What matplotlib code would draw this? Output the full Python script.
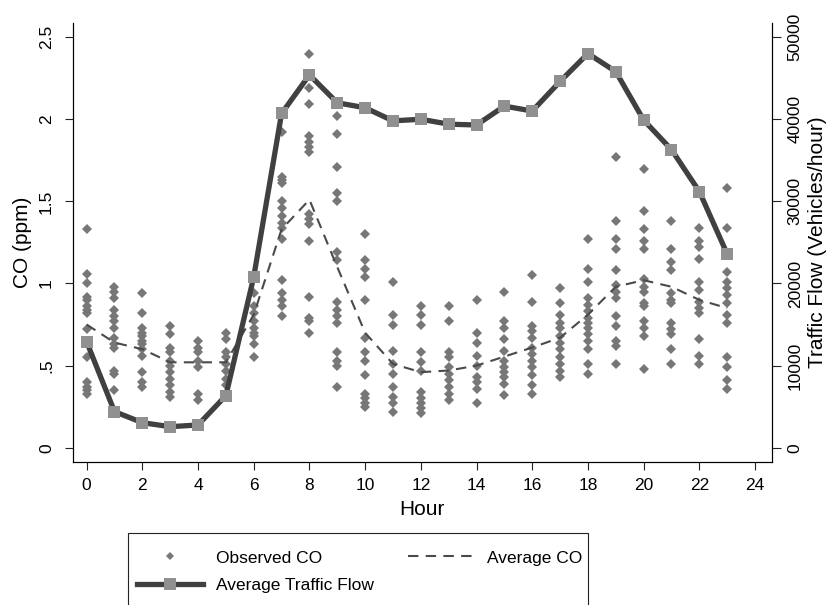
# CO observations and traffic flow by hour, two y axes, legend below
import matplotlib
matplotlib.use('Agg')
import matplotlib.pyplot as plt
from matplotlib.lines import Line2D
from matplotlib.patches import Rectangle

plt.rcParams['font.family'] = ['Liberation Sans', 'DejaVu Sans']

hours = list(range(24))

# observed CO (ppm), one list per hour
observed_co = [
    [1.33, 1.06, 1.00, 0.92, 0.90, 0.86, 0.84, 0.82, 0.72, 0.65, 0.55, 0.40, 0.37, 0.35, 0.33],
    [0.98, 0.95, 0.91, 0.84, 0.80, 0.77, 0.73, 0.67, 0.63, 0.61, 0.47, 0.45, 0.35],
    [0.94, 0.82, 0.73, 0.70, 0.68, 0.65, 0.63, 0.60, 0.56, 0.46, 0.40, 0.37],
    [0.74, 0.69, 0.61, 0.58, 0.53, 0.50, 0.46, 0.42, 0.38, 0.34, 0.31],
    [0.65, 0.61, 0.58, 0.53, 0.49, 0.33, 0.29],
    [0.70, 0.66, 0.58, 0.555, 0.51, 0.47, 0.42, 0.38],
    [0.94, 0.86, 0.82, 0.77, 0.73, 0.70, 0.68, 0.63, 0.55],
    [1.92, 1.65, 1.63, 1.61, 1.50, 1.46, 1.41, 1.37, 1.34, 1.27, 1.02, 0.94, 0.90, 0.86, 0.80],
    [2.40, 2.19, 2.09, 1.90, 1.86, 1.83, 1.80, 1.42, 1.39, 1.36, 1.26, 0.92, 0.79, 0.77, 0.70],
    [2.02, 1.91, 1.71, 1.55, 1.50, 1.19, 1.14, 0.89, 0.84, 0.80, 0.76, 0.58, 0.53, 0.50, 0.37],
    [1.30, 1.14, 1.09, 1.04, 0.90, 0.67, 0.58, 0.53, 0.44, 0.33, 0.30, 0.27, 0.25],
    [1.01, 0.81, 0.75, 0.59, 0.51, 0.45, 0.37, 0.31, 0.27, 0.22],
    [0.86, 0.81, 0.75, 0.58, 0.52, 0.47, 0.34, 0.30, 0.27, 0.24, 0.21],
    [0.86, 0.77, 0.58, 0.55, 0.49, 0.45, 0.41, 0.37, 0.33, 0.29],
    [0.90, 0.70, 0.64, 0.56, 0.50, 0.43, 0.40, 0.36, 0.27],
    [0.95, 0.77, 0.73, 0.66, 0.59, 0.53, 0.49, 0.46, 0.43, 0.39, 0.32],
    [1.05, 0.89, 0.74, 0.71, 0.67, 0.61, 0.57, 0.53, 0.49, 0.44, 0.38, 0.33],
    [0.97, 0.88, 0.81, 0.76, 0.73, 0.68, 0.64, 0.60, 0.55, 0.51, 0.47, 0.43],
    [1.27, 1.09, 1.01, 0.91, 0.87, 0.83, 0.79, 0.76, 0.73, 0.69, 0.65, 0.60, 0.51, 0.45],
    [1.77, 1.38, 1.27, 1.21, 1.08, 0.99, 0.95, 0.91, 0.80, 0.74, 0.65, 0.62, 0.51],
    [1.70, 1.44, 1.33, 1.26, 1.21, 1.03, 0.98, 0.95, 0.88, 0.86, 0.77, 0.73, 0.68, 0.48],
    [1.38, 1.21, 1.13, 1.08, 0.94, 0.90, 0.88, 0.76, 0.72, 0.69, 0.60, 0.51],
    [1.34, 1.26, 1.22, 1.15, 1.01, 0.96, 0.89, 0.85, 0.82, 0.66, 0.56, 0.51],
    [1.58, 1.34, 1.07, 1.01, 0.97, 0.93, 0.88, 0.81, 0.76, 0.55, 0.49, 0.41, 0.36],
]

avg_co = [0.75, 0.64, 0.60, 0.52, 0.52, 0.52, 0.81, 1.33, 1.51, 1.10, 0.70, 0.51,
          0.46, 0.47, 0.50, 0.555, 0.61, 0.67, 0.81, 0.98, 1.02, 0.98, 0.90, 0.85]

traffic = [12900, 4400, 3050, 2560, 2770, 6340, 20800, 40700, 45400, 42000, 41400, 39800,
           40000, 39400, 39300, 41600, 41000, 44600, 48000, 45800, 39900, 36300, 31200, 23600]

left_ticks = [0, 0.5, 1, 1.5, 2, 2.5]
left_labels = ['0', '.5', '1', '1.5', '2', '2.5']
right_ticks = [0, 10000, 20000, 30000, 40000, 50000]

fig = plt.figure(figsize=(8.3, 6.05), dpi=100)
ax = fig.add_axes([0.0876, 0.2369, 0.8422, 0.7251])

# scatter of observations
xs = [h for h, vals in zip(hours, observed_co) for _ in vals]
ys = [v for vals in observed_co for v in vals]
ax.plot(xs, ys, linestyle='none', marker='D', markersize=5.5,
        color='#777777', markeredgewidth=0)
ax.plot(hours, avg_co, color='#4a4a4a', linewidth=1.5, dashes=(5, 3.5))

ax.set_xlim(-0.5, 24.6)
ax.set_ylim(-0.085, 2.586)
ax.set_xticks(range(0, 25, 2))
ax.set_yticks(left_ticks)
ax.set_yticklabels(left_labels, rotation=90, va='center')
ax.set_xlabel('Hour', fontsize=15, labelpad=4.5)
ax.set_ylabel('CO (ppm)', fontsize=15, labelpad=5)
ax.tick_params(axis='x', labelsize=12.5, length=5.5, width=0.8, pad=6.5, color='#222222')
ax.tick_params(axis='y', labelsize=12.5, length=6, width=0.8, pad=7.5, color='#222222')
ax.spines['top'].set_visible(False)

ax2 = ax.twinx()
ax2.plot(hours, traffic, color='#404040', linewidth=3.8, marker='s', markersize=9,
         markerfacecolor='#909090', markeredgewidth=0)
ax2.set_ylim(-0.085 * 20000, 2.586 * 20000)
ax2.set_yticks(right_ticks)
ax2.set_yticklabels([str(t) for t in right_ticks], rotation=90, va='center')
ax2.set_ylabel('Traffic Flow (Vehicles/hour)', fontsize=15, labelpad=4)
ax2.tick_params(labelsize=12.5, length=6.5, width=0.8, pad=5, color='#222222')
ax2.spines['top'].set_visible(False)

handles = [
    Line2D([], [], linestyle='none', marker='D', markersize=4.5, color='#777777',
           markeredgewidth=0),
    Line2D([], [], color='#404040', linewidth=3.8, marker='s', markersize=9,
           markerfacecolor='#909090', markeredgewidth=0),
    Line2D([], [], color='#4a4a4a', linewidth=1.5, dashes=(5, 3.5)),
]
labels = ['Observed CO', 'Average Traffic Flow', 'Average CO']
fig.legend(handles, labels, ncol=2, loc='upper left',
           bbox_to_anchor=(120 / 830, 1 - 533 / 605), fontsize=12.5,
           frameon=False, handlelength=3.8, handletextpad=0.75,
           columnspacing=1.95, borderpad=1.0, labelspacing=0.7,
           borderaxespad=0)
# legend box runs off the bottom edge of the picture
fig.patches.append(Rectangle((128 / 830, -0.05), 460 / 830, 0.05 + (605 - 533) / 605,
                             transform=fig.transFigure, fill=False,
                             edgecolor='#222222', linewidth=0.8))

fig.savefig('out.png', dpi=100)
